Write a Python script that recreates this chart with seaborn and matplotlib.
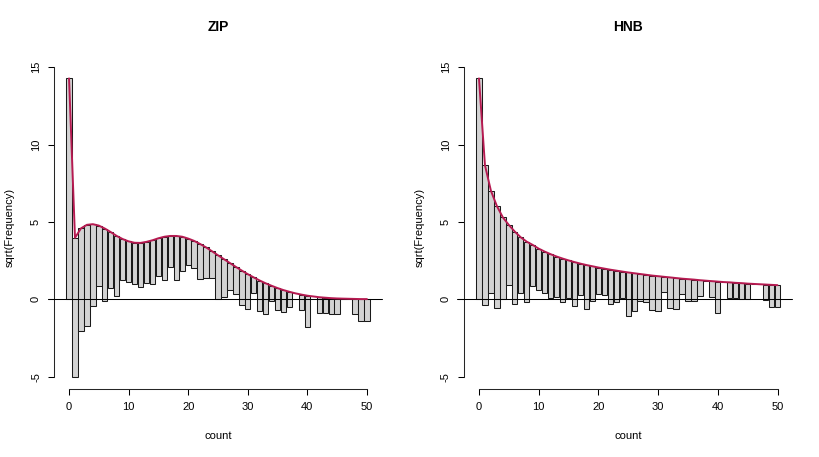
import numpy as np
import pandas as pd
import seaborn as sns
import matplotlib
matplotlib.use("Agg")
import matplotlib.pyplot as plt

# hanging rootograms: observed counts shared, expected from each model
counts = list(range(51))
observed = [204, 81, 44, 43, 28, 15, 22, 13, 15, 7,
            7, 7, 8, 7, 8, 6, 8, 4, 8, 5,
            3, 3, 5, 4, 3, 8, 6, 3, 3, 5,
            5, 1, 4, 4, 1, 2, 2, 1, 0, 1,
            4, 0, 1, 1, 1, 1, 0, 0, 1, 2, 2]
zip_expected = [14.28, 3.98, 4.59, 4.82, 4.86, 4.77, 4.58, 4.35, 4.10, 3.90,
                3.75, 3.66, 3.65, 3.72, 3.82, 3.95, 4.05, 4.10, 4.10, 4.05,
                3.93, 3.78, 3.58, 3.36, 3.11, 2.85, 2.60, 2.35, 2.10, 1.86,
                1.63, 1.42, 1.22, 1.04, 0.88, 0.73, 0.60, 0.49, 0.39, 0.31,
                0.24, 0.19, 0.14, 0.11, 0.08, 0.06, 0.05, 0.04, 0.03, 0.02, 0.02]
hnb_expected = [14.28, 8.67, 7.02, 6.03, 5.30, 4.81, 4.38, 4.01, 3.73, 3.52,
                3.28, 3.09, 2.92, 2.77, 2.64, 2.52, 2.41, 2.31, 2.22, 2.14,
                2.06, 1.99, 1.92, 1.86, 1.80, 1.74, 1.69, 1.64, 1.59, 1.54,
                1.50, 1.46, 1.42, 1.38, 1.34, 1.31, 1.28, 1.24, 1.21, 1.18,
                1.15, 1.12, 1.10, 1.07, 1.05, 1.02, 1.00, 0.98, 0.96, 0.94, 0.92]
titles = ["ZIP", "HNB"]
x_ticks = [0, 10, 20, 30, 40, 50]
y_ticks = [-5, 0, 5, 10, 15]

sns.set_style("ticks")
plt.rcParams['font.family'] = ['Liberation Sans', 'DejaVu Sans']
plt.rcParams['axes.linewidth'] = 0.75
plt.rcParams['text.color'] = 'black'
plt.rcParams['axes.labelcolor'] = 'black'

fig = plt.figure(figsize=(8.2, 4.57), dpi=100)
positions = [[0.0661, 0.1488, 0.3995, 0.7057], [0.566, 0.1488, 0.4003, 0.7057]]

for pos, title, expected in zip(positions, titles, [zip_expected, hnb_expected]):
    ax = fig.add_axes(pos)
    df = pd.DataFrame({'count': counts, 'observed': observed, 'expected': expected})
    df['sqrt_obs'] = np.sqrt(df['observed'])
    df['bottom'] = df['expected'] - df['sqrt_obs']

    sns.barplot(data=df, x='count', y='sqrt_obs', native_scale=True, width=0.9,
                color='#D3D3D3', saturation=1, errorbar=None, edgecolor='#1a1a1a',
                linewidth=0.75, bottom=df['bottom'].to_numpy(), ax=ax, zorder=2)
    ax.plot([-3.6, 52.5], [0, 0], color='black', lw=0.75, clip_on=False, zorder=3)
    sns.lineplot(data=df, x='count', y='expected', color='#B61A51', linewidth=1.4,
                 ax=ax, zorder=4)

    ax.set_xlim(-2.49, 52.49)
    ax.set_ylim(-5.79, 15.05)
    ax.set_xticks(x_ticks)
    ax.set_yticks(y_ticks)
    ax.set_xticklabels([str(t) for t in x_ticks])
    ax.set_yticklabels([str(t) for t in y_ticks], rotation=90, va='center')
    sns.despine(ax=ax)
    ax.spines['left'].set_bounds(-5, 15)
    ax.spines['bottom'].set_bounds(0, 50)
    ax.tick_params(axis='both', length=4.5, width=0.75, labelsize=8, pad=5,
                   colors='black')
    ax.set_xlabel('count', fontsize=8)
    ax.set_ylabel('sqrt(Frequency)', fontsize=8)
    ax.xaxis.set_label_coords(0.5, -0.13)
    ax.yaxis.set_label_coords(-0.12, 0.5)
    ax.set_title(title, fontsize=10, fontweight='bold', y=1.11, pad=0)
    ax.grid(False)

fig.savefig('out.png', dpi=100, facecolor='white')
